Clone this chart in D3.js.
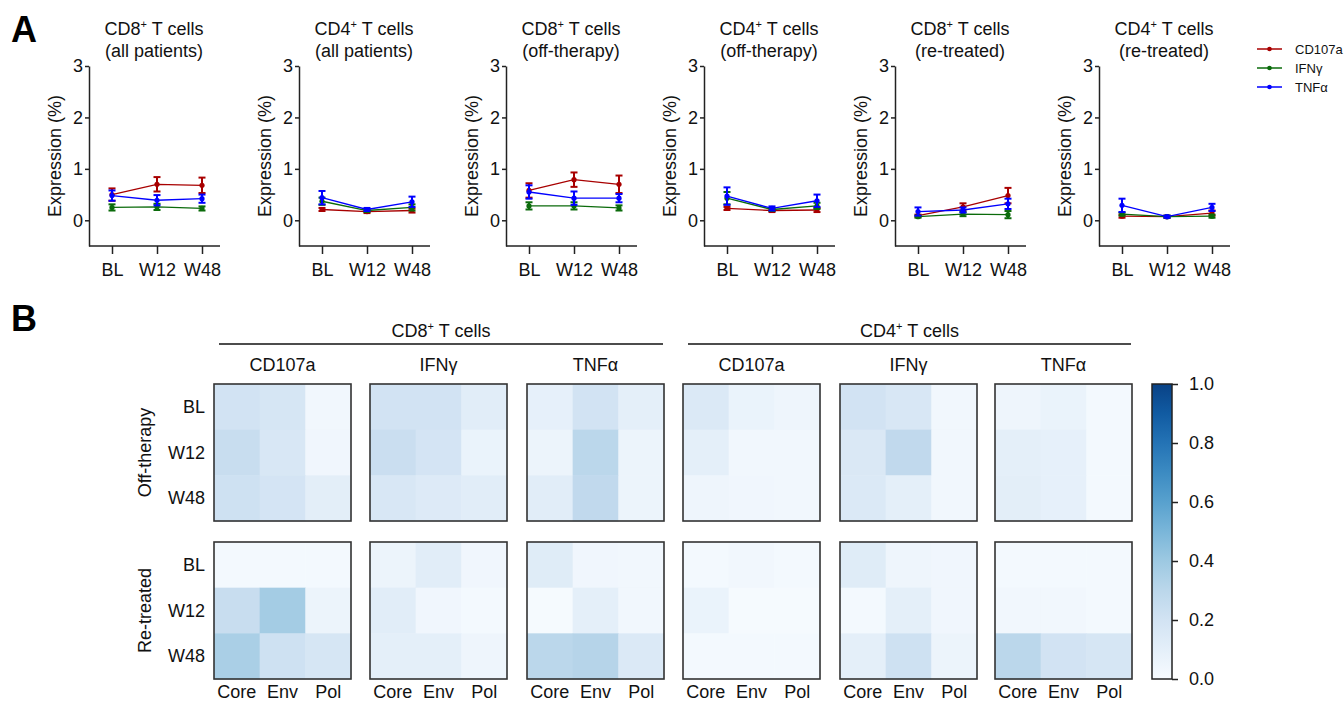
<!DOCTYPE html>
<html>
<head>
<meta charset="utf-8">
<script src="https://cdn.jsdelivr.net/npm/d3@7"></script>
<style>
  body { margin: 0; background: #fff; }
  svg { font-family: "Liberation Sans", Arial, sans-serif; }
</style>
</head>
<body>
<div id="fig"></div>
<script>
// ---- panel A data ----
const timepoints = ['BL', 'W12', 'W48'];
const markers = ['CD107a', 'IFNγ', 'TNFα'];
const markerColors = ['#a80000', '#0b6b0b', '#0000ff'];
const lineCells = ['CD8', 'CD4', 'CD8', 'CD4', 'CD8', 'CD4'];
const lineGroups = ['(all patients)', '(all patients)', '(off-therapy)', '(off-therapy)', '(re-treated)', '(re-treated)'];
const yTicks = [0, 1, 2, 3];

const cd107aMean = [[0.50, 0.70, 0.68], [0.21, 0.17, 0.19], [0.58, 0.79, 0.70], [0.23, 0.19, 0.20], [0.09, 0.26, 0.48], [0.08, 0.07, 0.14]];
const cd107aErr  = [[0.12, 0.14, 0.15], [0.03, 0.03, 0.04], [0.14, 0.14, 0.17], [0.03, 0.03, 0.04], [0.02, 0.07, 0.15], [0.03, 0.02, 0.05]];
const ifngMean   = [[0.25, 0.26, 0.23], [0.37, 0.19, 0.25], [0.28, 0.28, 0.24], [0.43, 0.21, 0.28], [0.07, 0.12, 0.11], [0.12, 0.07, 0.08]];
const ifngErr    = [[0.06, 0.06, 0.04], [0.07, 0.03, 0.06], [0.07, 0.07, 0.05], [0.12, 0.03, 0.06], [0.02, 0.04, 0.07], [0.03, 0.02, 0.03]];
const tnfaMean   = [[0.48, 0.39, 0.42], [0.44, 0.21, 0.36], [0.55, 0.43, 0.43], [0.47, 0.23, 0.38], [0.17, 0.20, 0.32], [0.29, 0.07, 0.25]];
const tnfaErr    = [[0.10, 0.10, 0.08], [0.13, 0.03, 0.10], [0.13, 0.13, 0.08], [0.17, 0.04, 0.12], [0.08, 0.05, 0.10], [0.13, 0.02, 0.07]];

// ---- panel B data ----
const heatCols = ['Core', 'Env', 'Pol'];
const heatRows = ['BL', 'W12', 'W48'];
const heatGroups = ['Off-therapy', 'Re-treated'];
const heatCells = ['CD8', 'CD4'];
const heatMarkers = ['CD107a', 'IFNγ', 'TNFα', 'CD107a', 'IFNγ', 'TNFα'];
const colorTicks = [0, 0.2, 0.4, 0.6, 0.8, 1.0];

const offTherapy = [
  [[0.20, 0.18, 0.03], [0.25, 0.17, 0.04], [0.22, 0.19, 0.11]],
  [[0.20, 0.20, 0.12], [0.24, 0.19, 0.07], [0.17, 0.14, 0.12]],
  [[0.09, 0.20, 0.10], [0.06, 0.30, 0.06], [0.12, 0.28, 0.06]],
  [[0.15, 0.07, 0.05], [0.10, 0.03, 0.03], [0.05, 0.04, 0.03]],
  [[0.20, 0.17, 0.03], [0.16, 0.28, 0.03], [0.15, 0.10, 0.03]],
  [[0.05, 0.07, 0.02], [0.10, 0.09, 0.02], [0.11, 0.09, 0.02]]
];
const reTreated = [
  [[0.02, 0.02, 0.02], [0.25, 0.38, 0.06], [0.36, 0.22, 0.18]],
  [[0.06, 0.12, 0.04], [0.12, 0.04, 0.02], [0.10, 0.10, 0.05]],
  [[0.13, 0.04, 0.03], [0.01, 0.10, 0.03], [0.30, 0.32, 0.15]],
  [[0.02, 0.03, 0.02], [0.07, 0.01, 0.01], [0.02, 0.02, 0.02]],
  [[0.13, 0.05, 0.04], [0.02, 0.10, 0.04], [0.10, 0.22, 0.06]],
  [[0.02, 0.02, 0.02], [0.03, 0.03, 0.02], [0.30, 0.20, 0.18]]
];

const width = 1344, height = 705;
const ink = '#222';

const svg = d3.select('#fig')
  .append('svg')
  .attr('width', width)
  .attr('height', height);

// panel letters
svg.append('text').attr('x', 11).attr('y', 42).attr('font-size', 36).attr('font-weight', 'bold').text('A');
svg.append('text').attr('x', 11).attr('y', 331).attr('font-size', 36).attr('font-weight', 'bold').text('B');

// title with superscript plus
function cellTitle(sel, cell) {
  sel.append('tspan').text(cell);
  sel.append('tspan').attr('font-size', 11).attr('dy', -7).text('+');
  sel.append('tspan').attr('dy', 7).text(' T cells');
}

// ================= PANEL A =================
const axisX = [89, 299, 506, 704, 895, 1099];
const plotW = 131;
const y = d3.scaleLinear().domain([-0.5, 3]).range([246, 66]);
const x = d3.scalePoint().domain(timepoints).range([23, 113]);
const means = [cd107aMean, ifngMean, tnfaMean];
const errs = [cd107aErr, ifngErr, tnfaErr];

lineCells.forEach((cell, i) => {
  const g = svg.append('g').attr('transform', `translate(${axisX[i]},0)`);

  const t = g.append('text').attr('x', 65).attr('y', 35).attr('text-anchor', 'middle').attr('font-size', 18).attr('fill', '#111');
  cellTitle(t, cell);
  g.append('text').attr('x', 65).attr('y', 57).attr('text-anchor', 'middle').attr('font-size', 18).attr('fill', '#111').text(lineGroups[i]);

  const yAx = g.append('g')
    .call(d3.axisLeft(y).tickValues(yTicks).tickSize(4).tickSizeOuter(0).tickPadding(2).tickFormat(d3.format('d')));
  const xAx = g.append('g')
    .attr('transform', `translate(0,${y.range()[0]})`)
    .call(d3.axisBottom(x).tickSize(8).tickSizeOuter(0).tickPadding(9));
  xAx.select('.domain').remove();
  g.append('line').attr('x1', 0).attr('x2', plotW).attr('y1', y.range()[0]).attr('y2', y.range()[0])
    .attr('stroke', ink).attr('stroke-width', 1.5);
  [yAx, xAx].forEach(a => {
    a.selectAll('path, line').attr('stroke', ink).attr('stroke-width', 1.5);
    a.selectAll('text').attr('font-size', 18).attr('fill', '#111').attr('font-family', null);
  });

  g.append('text')
    .attr('transform', `translate(-34,${(y.range()[0] + y.range()[1]) / 2}) rotate(-90)`)
    .attr('text-anchor', 'middle').attr('dy', '0.35em')
    .attr('font-size', 18).attr('fill', '#111')
    .text('Expression (%)');

  markers.forEach((m, k) => {
    const vals = means[k][i], ee = errs[k][i];
    const col = markerColors[k];
    const pts = timepoints.map((tp, j) => ({ tp: tp, v: vals[j], e: ee[j] }));
    g.append('path')
      .datum(pts)
      .attr('fill', 'none').attr('stroke', col).attr('stroke-width', 1.3)
      .attr('d', d3.line().x(d => x(d.tp)).y(d => y(d.v)));
    const eb = g.selectAll(null).data(pts).enter().append('g');
    eb.append('line')
      .attr('x1', d => x(d.tp)).attr('x2', d => x(d.tp))
      .attr('y1', d => y(d.v - d.e)).attr('y2', d => y(d.v + d.e))
      .attr('stroke', col).attr('stroke-width', 2);
    [-1, 1].forEach(s => {
      eb.append('line')
        .attr('x1', d => x(d.tp) - 3.5).attr('x2', d => x(d.tp) + 3.5)
        .attr('y1', d => y(d.v + s * d.e)).attr('y2', d => y(d.v + s * d.e))
        .attr('stroke', col).attr('stroke-width', 2);
    });
    eb.append('circle')
      .attr('cx', d => x(d.tp)).attr('cy', d => y(d.v)).attr('r', 2.6)
      .attr('fill', col);
  });
});

// legend
const legend = svg.append('g').attr('id', 'legend');
markers.forEach((m, k) => {
  const ly = [49, 68, 87][k];
  legend.append('line').attr('x1', 1257).attr('x2', 1282).attr('y1', ly).attr('y2', ly)
    .attr('stroke', markerColors[k]).attr('stroke-width', 1.5);
  legend.append('circle').attr('cx', 1269.5).attr('cy', ly).attr('r', 2.3).attr('fill', markerColors[k]);
  legend.append('text').attr('x', 1295).attr('y', ly).attr('dy', '0.35em')
    .attr('font-size', 13).attr('fill', '#111').text(m);
});

// ================= PANEL B =================
const boxX = [214, 370, 527, 683, 840, 995];
const boxY = [384, 542];
const boxS = 137;
const color = d3.scaleSequential(t => d3.interpolateBlues(t * 0.93)).domain([0, 1]);
const cx = d3.scaleBand().domain(heatCols).range([0, boxS]);
const cy = d3.scaleBand().domain(heatRows).range([0, boxS]);

// group headers
heatCells.forEach((cell, gi) => {
  const x0 = boxX[gi * 3] + 5, x1 = boxX[gi * 3 + 2] + boxS - 1;
  svg.append('line').attr('x1', x0).attr('x2', x1).attr('y1', 344).attr('y2', 344)
    .attr('stroke', '#111').attr('stroke-width', 1.5);
  const t = svg.append('text').attr('x', (x0 + x1) / 2).attr('y', 337).attr('text-anchor', 'middle')
    .attr('font-size', 18).attr('fill', '#111');
  cellTitle(t, cell);
});

heatMarkers.forEach((m, p) => {
  svg.append('text').attr('x', boxX[p] + boxS / 2).attr('y', 371).attr('text-anchor', 'middle')
    .attr('font-size', 18).attr('fill', '#111').text(m);

  [offTherapy, reTreated].forEach((mat, r) => {
    const g = svg.append('g').attr('transform', `translate(${boxX[p]},${boxY[r]})`);
    const cells = [];
    heatRows.forEach((row, ri) => heatCols.forEach((c, ci) => cells.push({ row: row, col: c, v: mat[p][ri][ci] })));
    g.selectAll('rect.cell').data(cells).enter().append('rect')
      .attr('class', 'cell')
      .attr('x', d => cx(d.col)).attr('y', d => cy(d.row))
      .attr('width', cx.bandwidth() + 0.5).attr('height', cy.bandwidth() + 0.5)
      .attr('fill', d => color(d.v));
    g.append('rect').attr('width', boxS).attr('height', boxS)
      .attr('fill', 'none').attr('stroke', '#333').attr('stroke-width', 1.6);

    if (p === 0) {
      g.selectAll('text.row').data(heatRows).enter().append('text')
        .attr('class', 'row')
        .attr('x', -9).attr('y', d => cy(d) + cy.bandwidth() / 2).attr('dy', '0.35em')
        .attr('text-anchor', 'end').attr('font-size', 18).attr('fill', '#111')
        .text(d => d);
      g.append('text')
        .attr('transform', `translate(-69,${boxS / 2}) rotate(-90)`)
        .attr('text-anchor', 'middle').attr('dy', '0.35em')
        .attr('font-size', 18).attr('fill', '#111')
        .text(heatGroups[r]);
    }
    if (r === 1) {
      g.selectAll('text.col').data(heatCols).enter().append('text')
        .attr('class', 'col')
        .attr('x', d => cx(d) + cx.bandwidth() / 2).attr('y', boxS + 19)
        .attr('text-anchor', 'middle').attr('font-size', 18).attr('fill', '#111')
        .text(d => d);
    }
  });
});

// colorbar
const cbX = 1152, cbW = 20;
const cbScale = d3.scaleLinear().domain([0, 1]).range([679, 384]);
const grad = svg.append('defs').append('linearGradient').attr('id', 'cbgrad')
  .attr('x1', 0).attr('x2', 0).attr('y1', 1).attr('y2', 0);
d3.range(0, 1.001, 0.1).forEach(t => {
  grad.append('stop').attr('offset', t).attr('stop-color', color(t));
});
svg.append('rect').attr('x', cbX).attr('y', 384).attr('width', cbW).attr('height', 295)
  .attr('fill', 'url(#cbgrad)').attr('stroke', '#222').attr('stroke-width', 1.5);
const cbAx = svg.append('g').attr('transform', `translate(${cbX + cbW},0)`)
  .call(d3.axisRight(cbScale).tickValues(colorTicks).tickSize(6).tickSizeOuter(0).tickPadding(11).tickFormat(d3.format('.1f')));
cbAx.select('.domain').remove();
cbAx.selectAll('line').attr('stroke', '#222').attr('stroke-width', 1.5);
cbAx.selectAll('text').attr('font-size', 18).attr('fill', '#111').attr('font-family', null);
</script>
</body>
</html>
